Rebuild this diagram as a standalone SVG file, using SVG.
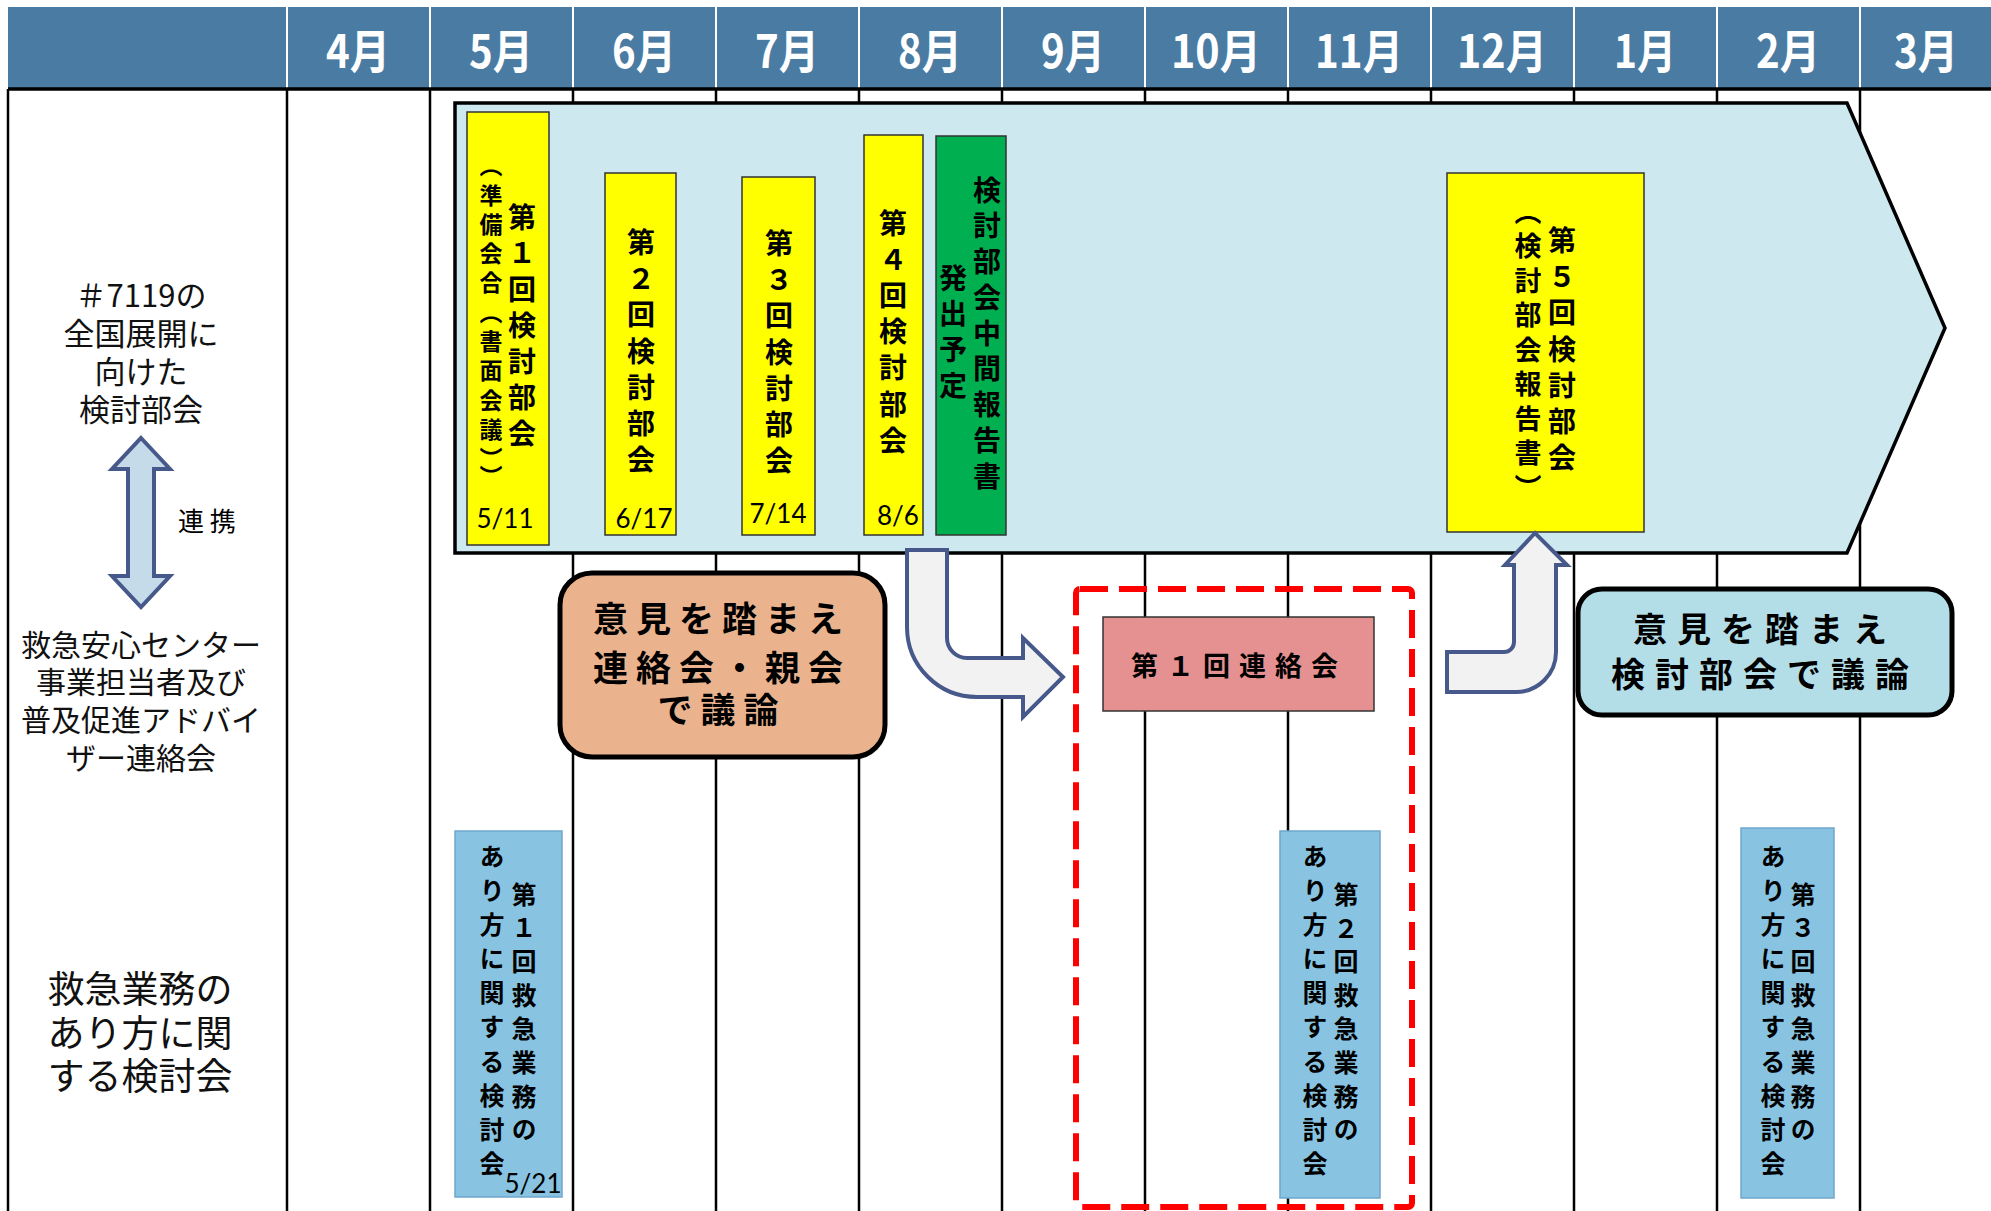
<svg xmlns="http://www.w3.org/2000/svg" width="1991" height="1211" viewBox="0 0 1991 1211">
<style>
.jp{font-family:"Noto Sans CJK JP","Noto Sans CJK SC",sans-serif;}
.b{font-weight:700;}
.v{writing-mode:vertical-rl;}
.mon{font-family:"Noto Sans CJK JP",sans-serif;font-weight:700;font-size:46px;fill:#fff;text-anchor:middle;}
.grid{stroke:#000;stroke-width:2.5;fill:none;}
.hsep{stroke:#fff;stroke-width:2;}
.yel{fill:#FFFF00;stroke:#333;stroke-width:1.5;}
.grn{fill:#00B050;stroke:#333;stroke-width:1.5;}
.blu{fill:#88C4E2;stroke:#6FA6CA;stroke-width:1.5;}
.date{font-family:Lato,"Liberation Sans",sans-serif;font-size:26px;fill:#000;text-anchor:middle;}
.lbl{font-family:"Noto Sans CJK JP",sans-serif;fill:#111;text-anchor:middle;}
.arr{fill:#F2F2F2;stroke:#46598A;stroke-width:4;stroke-linejoin:miter;}
</style>

<g id="header">
  <rect x="8" y="7" width="1983" height="82" fill="#4A7BA3"/>
  <g class="hsep">
    <line x1="287" y1="7" x2="287" y2="89"/><line x1="430" y1="7" x2="430" y2="89"/>
    <line x1="573" y1="7" x2="573" y2="89"/><line x1="716" y1="7" x2="716" y2="89"/>
    <line x1="859" y1="7" x2="859" y2="89"/><line x1="1002" y1="7" x2="1002" y2="89"/>
    <line x1="1145" y1="7" x2="1145" y2="89"/><line x1="1288" y1="7" x2="1288" y2="89"/>
    <line x1="1431" y1="7" x2="1431" y2="89"/><line x1="1574" y1="7" x2="1574" y2="89"/>
    <line x1="1717" y1="7" x2="1717" y2="89"/><line x1="1860" y1="7" x2="1860" y2="89"/>
  </g>
  <text class="mon" x="358" y="68" textLength="64" lengthAdjust="spacingAndGlyphs">4月</text>
  <text class="mon" x="501" y="68" textLength="64" lengthAdjust="spacingAndGlyphs">5月</text>
  <text class="mon" x="644" y="68" textLength="64" lengthAdjust="spacingAndGlyphs">6月</text>
  <text class="mon" x="787" y="68" textLength="64" lengthAdjust="spacingAndGlyphs">7月</text>
  <text class="mon" x="930" y="68" textLength="64" lengthAdjust="spacingAndGlyphs">8月</text>
  <text class="mon" x="1073" y="68" textLength="64" lengthAdjust="spacingAndGlyphs">9月</text>
  <text class="mon" x="1216" y="68" textLength="90" lengthAdjust="spacingAndGlyphs">10月</text>
  <text class="mon" x="1359" y="68" textLength="88" lengthAdjust="spacingAndGlyphs">11月</text>
  <text class="mon" x="1502" y="68" textLength="90" lengthAdjust="spacingAndGlyphs">12月</text>
  <text class="mon" x="1645" y="68" textLength="62" lengthAdjust="spacingAndGlyphs">1月</text>
  <text class="mon" x="1788" y="68" textLength="64" lengthAdjust="spacingAndGlyphs">2月</text>
  <text class="mon" x="1926" y="68" textLength="64" lengthAdjust="spacingAndGlyphs">3月</text>
</g>

<g id="grid" class="grid">
  <line x1="8" y1="89" x2="1991" y2="89" stroke-width="3.5"/>
  <line x1="8" y1="89" x2="8" y2="1211"/>
  <line x1="287" y1="89" x2="287" y2="1211"/><line x1="430" y1="89" x2="430" y2="1211"/>
  <line x1="573" y1="89" x2="573" y2="1211"/><line x1="716" y1="89" x2="716" y2="1211"/>
  <line x1="859" y1="89" x2="859" y2="1211"/><line x1="1002" y1="89" x2="1002" y2="1211"/>
  <line x1="1145" y1="89" x2="1145" y2="1211"/><line x1="1288" y1="89" x2="1288" y2="1211"/>
  <line x1="1431" y1="89" x2="1431" y2="1211"/><line x1="1574" y1="89" x2="1574" y2="1211"/>
  <line x1="1717" y1="89" x2="1717" y2="1211"/><line x1="1860" y1="89" x2="1860" y2="1211"/>
</g>

<g id="row-labels">
  <text class="lbl" x="141" y="307" style="font-size:31px">＃7119の</text>
  <text class="lbl" x="141" y="345" style="font-size:31px">全国展開に</text>
  <text class="lbl" x="141" y="383" style="font-size:31px">向けた</text>
  <text class="lbl" x="141" y="421" style="font-size:31px">検討部会</text>
  <text class="jp" x="178" y="531" style="font-size:26px">連 携</text>
  <text class="lbl" x="141" y="656" style="font-size:30px">救急安心センター</text>
  <text class="lbl" x="141" y="693" style="font-size:30px">事業担当者及び</text>
  <text class="lbl" x="141" y="731" style="font-size:30px">普及促進アドバイ</text>
  <text class="lbl" x="141" y="769" style="font-size:30px">ザー連絡会</text>
  <text class="lbl" x="140" y="1003" style="font-size:37px">救急業務の</text>
  <text class="lbl" x="140" y="1047" style="font-size:37px">あり方に関</text>
  <text class="lbl" x="140" y="1090" style="font-size:37px">する検討会</text>
</g>

<g id="timeline-arrow">
  <polygon points="455,103 1847,103 1945,328 1847,553 455,553" fill="#CDE8EE" stroke="#000" stroke-width="3.5"/>
</g>

<g id="bukai1">
  <rect class="yel" x="467" y="112" width="82" height="433"/>
  <text class="jp b v" x="522" y="203" font-size="28" letter-spacing="8">第１回検討部会</text>
  <text class="jp b v" x="491" y="154" font-size="23" letter-spacing="6.3">（準備会合（書面会議））</text>
  <text class="date" x="505" y="528">5/11</text>
</g>
<g id="bukai2">
  <rect class="yel" x="605" y="173" width="71" height="362"/>
  <text class="jp b v" x="641" y="228" font-size="28" letter-spacing="8.3">第２回検討部会</text>
  <text class="date" x="644" y="528">6/17</text>
</g>
<g id="bukai3">
  <rect class="yel" x="742" y="177" width="73" height="358"/>
  <text class="jp b v" x="779" y="229" font-size="28" letter-spacing="8.3">第３回検討部会</text>
  <text class="date" x="778" y="523">7/14</text>
</g>
<g id="bukai4">
  <rect class="yel" x="864" y="135" width="59" height="400"/>
  <text class="jp b v" x="893" y="209" font-size="28" letter-spacing="8.2">第４回検討部会</text>
  <text class="date" x="898" y="525">8/6</text>
</g>
<g id="interim-report">
  <rect class="grn" x="936" y="136" width="70" height="399"/>
  <text class="jp b v" x="987" y="176" font-size="28" letter-spacing="7.75">検討部会中間報告書</text>
  <text class="jp b v" x="953" y="264" font-size="28" letter-spacing="7.7">発出予定</text>
</g>
<g id="bukai5">
  <rect class="yel" x="1447" y="173" width="197" height="359"/>
  <text class="jp b v" x="1562" y="226" font-size="28" letter-spacing="8.3">第５回検討部会</text>
  <text class="jp b v" x="1528" y="198" font-size="27" letter-spacing="7.5">（検討部会報告書）</text>
</g>

<g id="connectors">
  <path class="arr" d="M907,550 L907,627 A70,70 0 0 0 977,697 L1023,697 L1023,717 L1063,677 L1023,638 L1023,658 L967,658 A20,20 0 0 1 947,638 L947,550 Z"/>
  <path class="arr" d="M1514,565 L1505,565 L1535,533 L1567,565 L1556,565 L1556,652 A40,40 0 0 1 1516,692 L1447,692 L1447,652 L1504,652 A10,10 0 0 0 1514,642 Z"/>
  <path d="M141,438 L170,469 L154,469 L154,576 L170,576 L141,607 L112,576 L128,576 L128,469 L112,469 Z" fill="#C6DBE9" stroke="#46598A" stroke-width="4"/>
</g>

<g id="discuss-liaison">
  <rect x="560" y="573" width="325" height="184" rx="32" fill="#EAB38E" stroke="#000" stroke-width="5"/>
  <text class="jp b" x="722" y="632" font-size="35" letter-spacing="8" text-anchor="middle">意見を踏まえ</text>
  <text class="jp b" x="722" y="681" font-size="35" letter-spacing="8" text-anchor="middle">連絡会・親会</text>
  <text class="jp b" x="722" y="723" font-size="35" letter-spacing="8" text-anchor="middle">で議論</text>
</g>

<g id="liaison-1">
  <rect x="1076" y="589" width="336" height="618" rx="4" fill="none" stroke="#FF0000" stroke-width="6" stroke-dasharray="28 11"/>
  <rect x="1103" y="617" width="271" height="94" fill="#E59191" stroke="#333" stroke-width="1.5"/>
  <text class="jp b" x="1239" y="676" font-size="27" letter-spacing="9" text-anchor="middle">第１回連絡会</text>
</g>

<g id="discuss-bukai">
  <rect x="1578" y="589" width="374" height="126" rx="24" fill="#B3DEE8" stroke="#000" stroke-width="5"/>
  <text class="jp b" x="1765" y="642" font-size="34" letter-spacing="10" text-anchor="middle">意見を踏まえ</text>
  <text class="jp b" x="1765" y="687" font-size="34" letter-spacing="10" text-anchor="middle">検討部会で議論</text>
</g>

<g id="kentokai1">
  <rect class="blu" x="455" y="831" width="107" height="366"/>
  <text class="jp b v" x="492" y="844" font-size="25" letter-spacing="9.1">あり方に関する検討会</text>
  <text class="jp b v" x="524" y="882" font-size="25" letter-spacing="8.6">第１回救急業務の</text>
  <text class="date" x="533" y="1193">5/21</text>
</g>
<g id="kentokai2">
  <rect class="blu" x="1280" y="831" width="100" height="367"/>
  <text class="jp b v" x="1315" y="844" font-size="25" letter-spacing="9.1">あり方に関する検討会</text>
  <text class="jp b v" x="1346" y="882" font-size="25" letter-spacing="8.6">第２回救急業務の</text>
</g>
<g id="kentokai3">
  <rect class="blu" x="1741" y="828" width="93" height="370"/>
  <text class="jp b v" x="1773" y="844" font-size="25" letter-spacing="9.1">あり方に関する検討会</text>
  <text class="jp b v" x="1803" y="882" font-size="25" letter-spacing="8.6">第３回救急業務の</text>
</g>
</svg>
